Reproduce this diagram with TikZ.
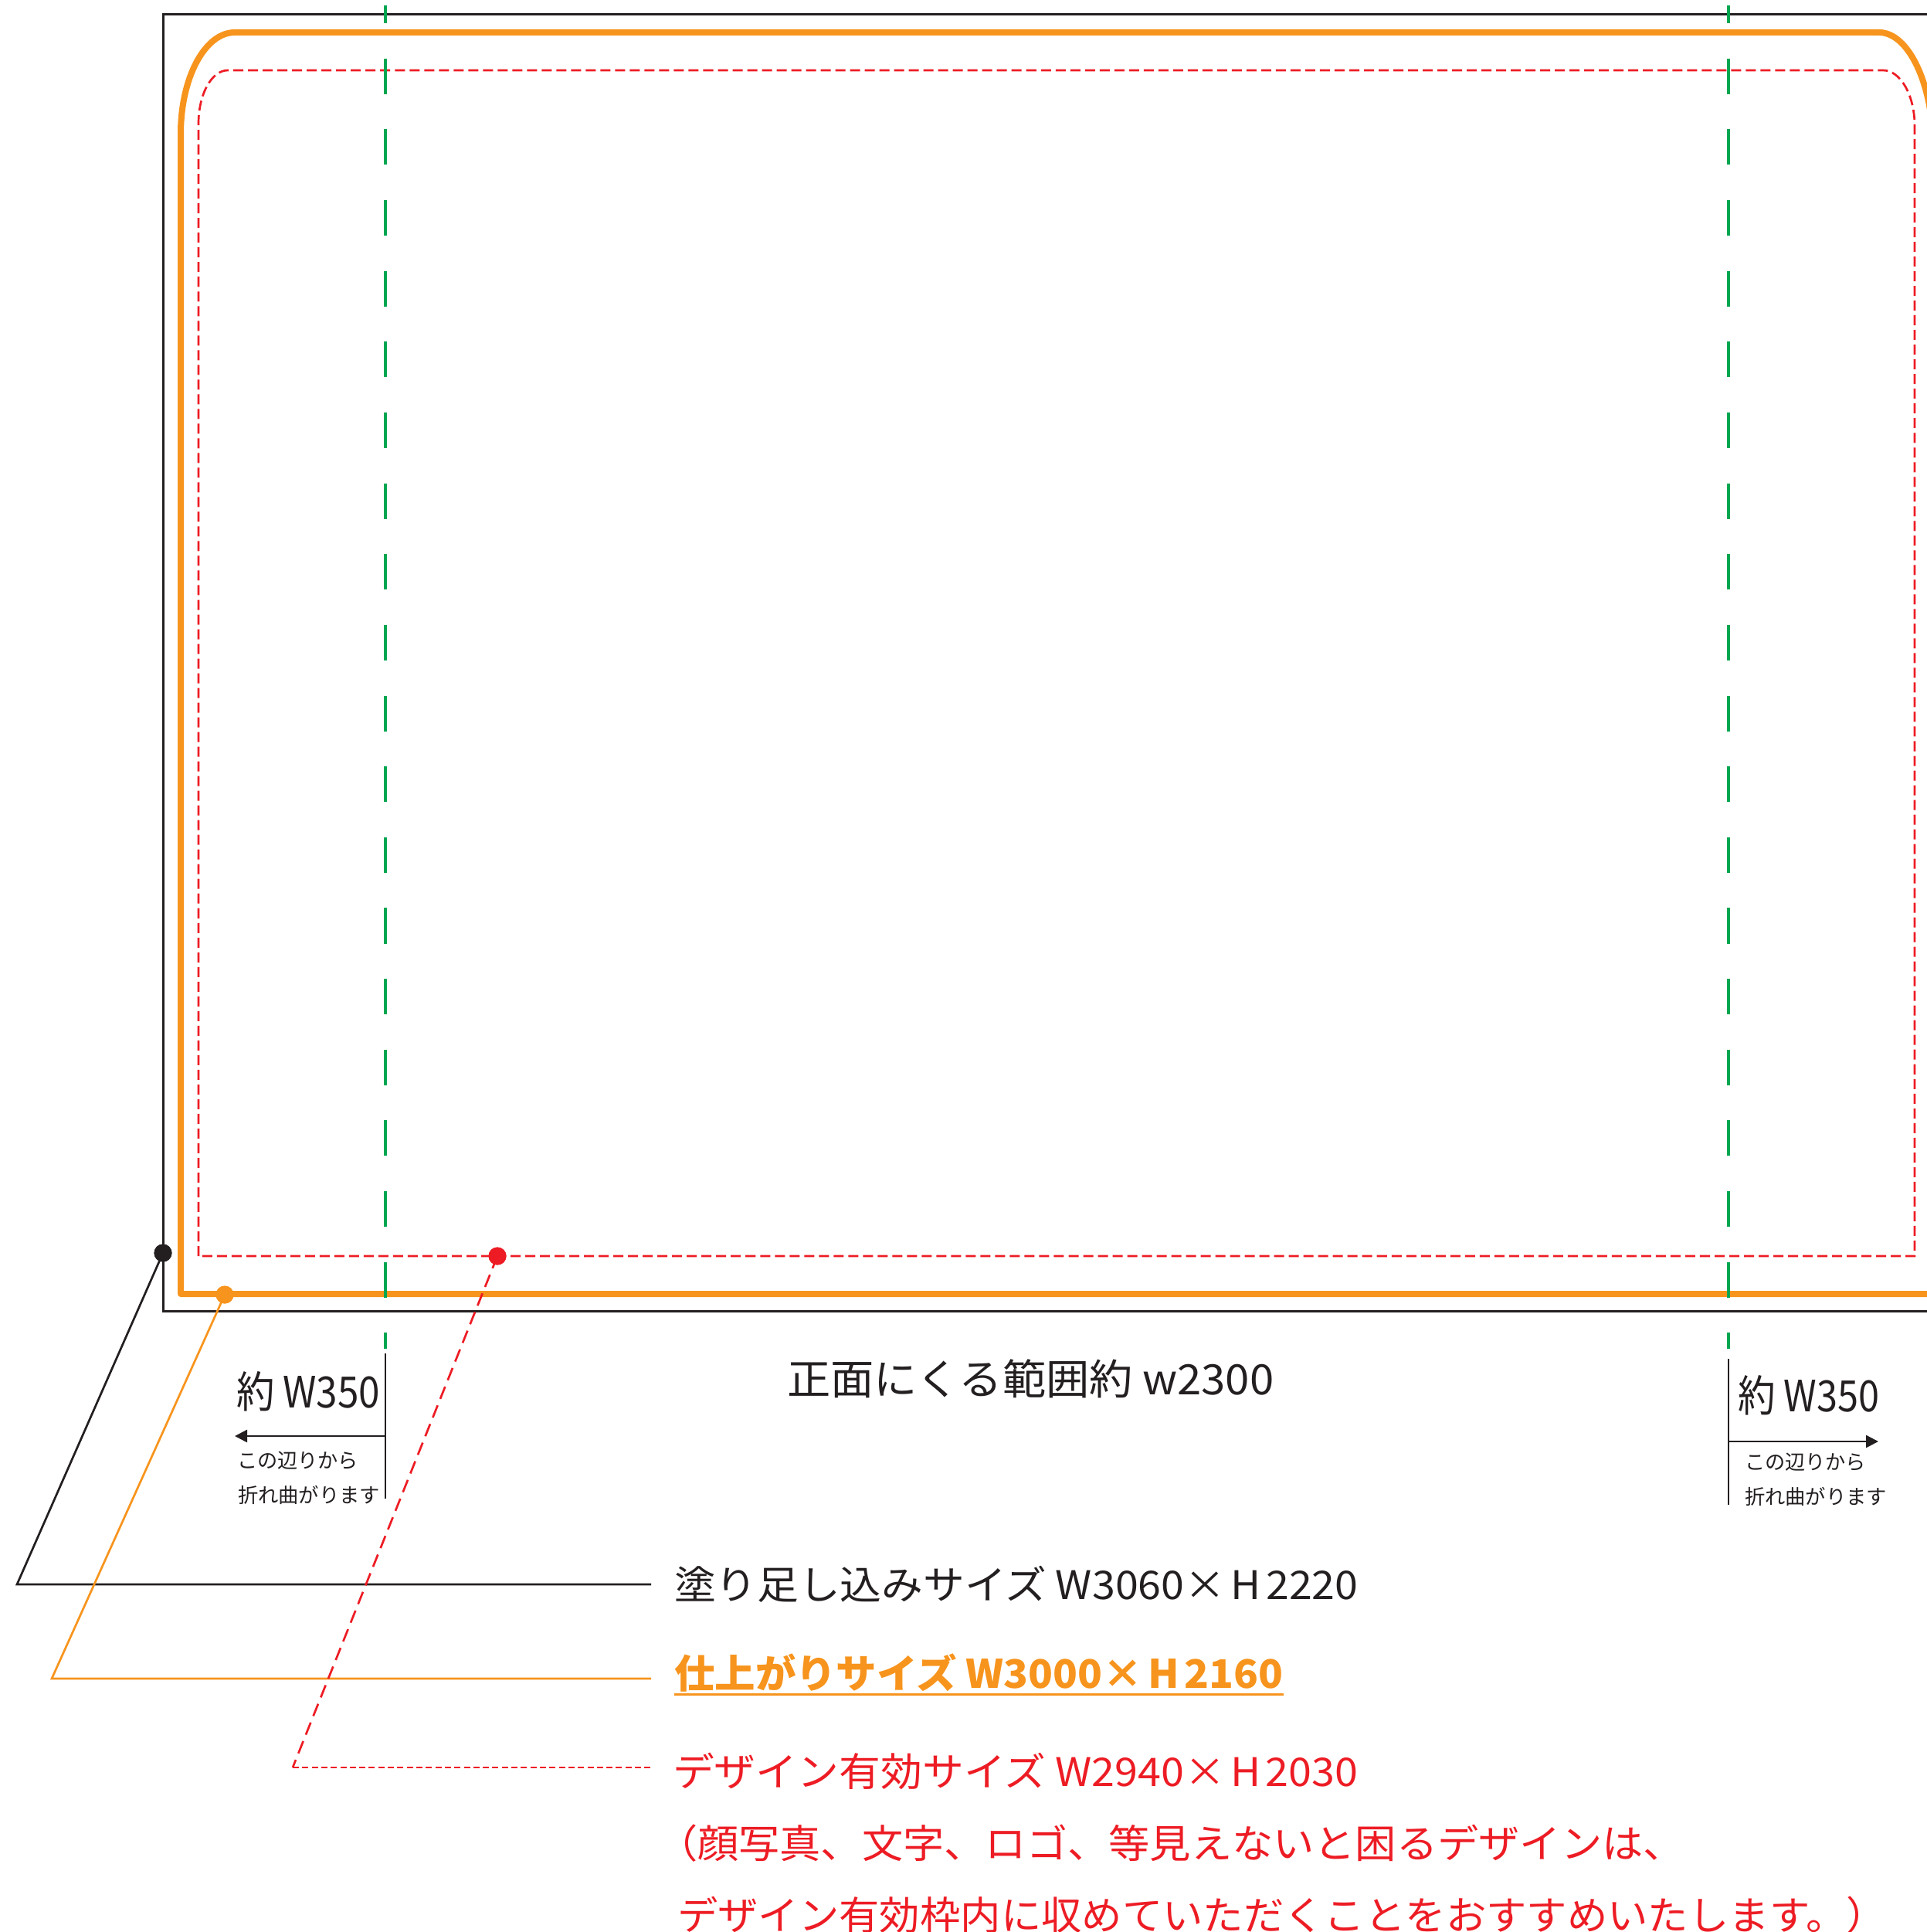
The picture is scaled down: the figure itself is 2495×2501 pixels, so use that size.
\documentclass[tikz,border=0pt]{standalone}
\usepackage{fontspec}
\usepackage{graphicx}
\setmainfont{Noto Sans CJK JP}
\usetikzlibrary{arrows.meta}
\definecolor{cOrange}{HTML}{F7941D}
\definecolor{cRed}{HTML}{ED1C24}
\definecolor{cGreen}{HTML}{00A651}
\definecolor{cBlack}{HTML}{231F20}
\newcommand\fitw[3]{\resizebox{#1}{\height}{\fontsize{#2}{#2}\selectfont #3}}
\begin{document}
\begin{tikzpicture}[x=0.01cm,y=-0.01cm,
  lbl/.style={anchor=base west, inner sep=0pt, outer sep=0pt},
  frame/.style={draw=cBlack, line width=0.03cm},
  trim/.style={draw=cOrange, line width=0.08cm, line join=round},
  safe/.style={draw=cRed, line width=0.027cm, dash pattern=on 0.13cm off 0.06cm},
  fold/.style={draw=cGreen, line width=0.045cm, dash pattern=on 0.46cm off 0.456cm, dash phase=0.23cm},
  lead/.style={line width=0.027cm},
  dot/.style={circle, inner sep=0pt, minimum size=0.23cm},
  annot/.style={draw=cBlack, line width=0.025cm},
  arr/.style={-{Triangle[length=0.16cm,width=0.16cm]}}
]
\useasboundingbox (0,0) rectangle (2495,2501);

% bleed frame
\draw[frame] (211,19) rectangle (2545,1697);
% trim line
\draw[trim] (234,1675) -- (234,173) .. controls (234,100.6) and (265.3,42) .. (304,42)
  -- (2433,42) .. controls (2471.1,42) and (2503,109.2) .. (2503,192) -- (2503,1675) -- cycle;
% safe area
\draw[safe] (257,1626) -- (257,160) .. controls (257,121.9) and (274,91) .. (295,91)
  -- (2438,91) .. controls (2460.6,91) and (2479,123.2) .. (2479,163) -- (2479,1626) -- cycle;

% leader coordinates
\coordinate (kB) at (22,2051);
\coordinate (eB) at (843,2051);
\coordinate (kO) at (67,2173);
\coordinate (eO) at (843,2173);
\coordinate (kR) at (379,2288);
\coordinate (eR) at (843,2288);

\node[dot, fill=cBlack] (dB) at (211,1622) {};
\node[dot, fill=cOrange] (dO) at (291,1676) {};
\node[dot, fill=cRed] (dR) at (644,1626) {};

\draw[lead, cBlack] (dB.center) -- (kB) -- (eB);
\draw[lead, cOrange] (dO.center) -- (kO) -- (eO);
\draw[lead, cRed, dash pattern=on 0.17cm off 0.09cm] (dR.center) -- (kR);
\draw[lead, cRed, dash pattern=on 0.08cm off 0.043cm] (kR) -- (eR);

% fold lines
\draw[fold] (499,7) -- (499,1746);
\draw[fold] (2238,7) -- (2238,1746);

% redraw dots on top
\node[dot, fill=cBlack] at (dB) {};
\node[dot, fill=cOrange] at (dO) {};
\node[dot, fill=cRed] at (dR) {};

% left annotation
\coordinate (lv1) at (499,1752);
\coordinate (lv2) at (499,1940);
\coordinate (la1) at (499,1859);
\coordinate (la2) at (304,1859);
\draw[annot] (lv1) -- (lv2);
\draw[annot, arr] (la1) -- (la2);
\node[lbl, text=cBlack] (tL1) at (306,1822) {\fitw{1.86cm}{15.9pt}{約 W350}};
\node[lbl, text=cBlack] (tL2) at (307,1900) {\fitw{1.57cm}{7.5pt}{この辺りから}};
\node[lbl, text=cBlack] (tL3) at (308,1945) {\fitw{1.84cm}{7.5pt}{折れ曲がります}};

% right annotation
\coordinate (rv1) at (2238,1759);
\coordinate (rv2) at (2238,1948);
\coordinate (ra1) at (2238,1866);
\coordinate (ra2) at (2432,1866);
\draw[annot] (rv1) -- (rv2);
\draw[annot, arr] (ra1) -- (ra2);
\node[lbl, text=cBlack] (tR1) at (2250,1827) {\fitw{1.83cm}{15.9pt}{約 W350}};
\node[lbl, text=cBlack] (tR2) at (2259,1902) {\fitw{1.57cm}{7.5pt}{この辺りから}};
\node[lbl, text=cBlack] (tR3) at (2259,1947) {\fitw{1.84cm}{7.5pt}{折れ曲がります}};

% center
\node[lbl, text=cBlack] (tC) at (1019,1805) {\fitw{6.30cm}{15.4pt}{正面にくる範囲約 w2300}};

% labels
\node[lbl, text=cBlack] (tT1) at (873,2070) {\fitw{8.85cm}{14.5pt}{塗り足し込みサイズ W3060×\hspace{0.12em}H\hspace{0.12em}2220}};
\node[lbl, text=cOrange] (tT2) at (873,2185) {\fitw{7.88cm}{14.5pt}{\bfseries 仕上がりサイズ W3000×\hspace{0.12em}H\hspace{0.12em}2160}};
\path (tT2.base west) ++(0,8) coordinate (u1);
\path (tT2.base east) ++(0,8) coordinate (u2);
\draw[cOrange, line width=0.03cm] (u1) -- (u2);
\node[lbl, text=cRed] (tT3) at (871,2312) {\fitw{8.87cm}{14.5pt}{デザイン有効サイズ W2940×\hspace{0.12em}H\hspace{0.12em}2030}};
\node[lbl, text=cRed] (tT4) at (850,2405) {\fitw{13.30cm}{14.5pt}{（顔写真、文字、ロゴ、等見えないと困るデザインは、}};
\node[lbl, text=cRed] (tT5) at (877,2498) {\fitw{15.65cm}{14.5pt}{デザイン有効枠内に収めていただくことをおすすめいたします。）}};
\end{tikzpicture}
\end{document}
